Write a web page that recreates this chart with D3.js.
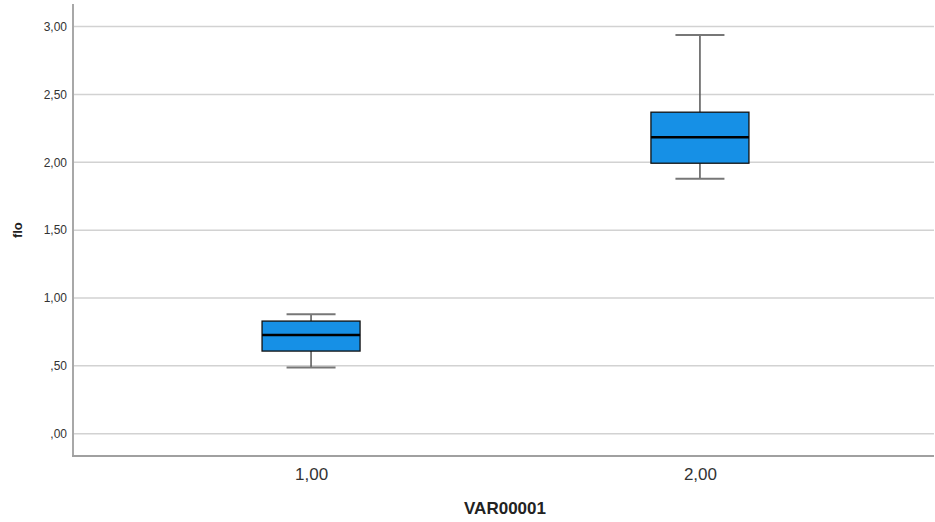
<!DOCTYPE html>
<html>
<head>
<meta charset="utf-8">
<script src="https://cdn.jsdelivr.net/npm/d3@7"></script>
<style>
  body { margin: 0; background: #fff; }
  text { font-family: Arial, "Liberation Sans", sans-serif; }
</style>
</head>
<body>
<script>
// box plot values
var categories = ["1,00", "2,00"];
var lowWhisker = [0.488, 1.878];
var q1 = [0.609, 1.993];
var median = [0.727, 2.185];
var q3 = [0.830, 2.369];
var highWhisker = [0.881, 2.938];
var yTicks = [0, 0.5, 1, 1.5, 2, 2.5, 3];
var yTickLabels = [",00", ",50", "1,00", "1,50", "2,00", "2,50", "3,00"];

var width = 935, height = 522;
var margin = {top: 4, right: 1, bottom: 66, left: 73};

var svg = d3.select("body").append("svg")
    .attr("width", width)
    .attr("height", height);

// plot band is shifted a hair right of the axis, like the original
var x = d3.scalePoint()
    .domain(categories)
    .range([margin.left + 2, width - margin.right + 2])
    .padding(0.607);

var y = d3.scaleLinear()
    .domain([-0.164, 3.166])
    .range([height - margin.bottom, margin.top]);

// gridlines
svg.append("g")
  .selectAll("line")
  .data(yTicks)
  .enter().append("line")
    .attr("x1", margin.left)
    .attr("x2", width - margin.right)
    .attr("y1", d => y(d))
    .attr("y2", d => y(d))
    .attr("stroke", "#d2d2d2")
    .attr("stroke-width", 1.5);

// y axis
var yAxis = d3.axisLeft(y)
    .tickValues(yTicks)
    .tickSize(0)
    .tickPadding(6)
    .tickFormat((d, i) => yTickLabels[i]);

var gy = svg.append("g")
    .attr("transform", "translate(" + margin.left + ",0)")
    .call(yAxis);
gy.select(".domain").remove();
gy.selectAll("text")
    .attr("font-size", 12)
    .attr("fill", "#333");

// x axis
var xAxis = d3.axisBottom(x).tickSize(0).tickPadding(12);
var gx = svg.append("g")
    .attr("transform", "translate(0," + (height - margin.bottom) + ")")
    .call(xAxis);
gx.select(".domain").remove();
gx.selectAll("text")
    .attr("font-size", 17)
    .attr("fill", "#333");

// axis lines
svg.append("line")
    .attr("x1", margin.left).attr("x2", margin.left)
    .attr("y1", margin.top).attr("y2", height - margin.bottom)
    .attr("stroke", "#a8a8a8").attr("stroke-width", 2);
svg.append("line")
    .attr("x1", margin.left - 1).attr("x2", width - margin.right)
    .attr("y1", height - margin.bottom).attr("y2", height - margin.bottom)
    .attr("stroke", "#a0a0a0").attr("stroke-width", 2);

// boxes
var boxW = 98, capW = 49;
var box = svg.append("g")
  .selectAll("g")
  .data(categories)
  .enter().append("g")
    .attr("transform", d => "translate(" + x(d) + ",0)");

// whiskers
box.append("line")
    .attr("y1", (d, i) => y(highWhisker[i]))
    .attr("y2", (d, i) => y(q3[i]))
    .attr("stroke", "#555").attr("stroke-width", 1.5);
box.append("line")
    .attr("y1", (d, i) => y(q1[i]))
    .attr("y2", (d, i) => y(lowWhisker[i]))
    .attr("stroke", "#555").attr("stroke-width", 1.5);
box.append("line")
    .attr("x1", -capW / 2).attr("x2", capW / 2)
    .attr("y1", (d, i) => y(highWhisker[i]))
    .attr("y2", (d, i) => y(highWhisker[i]))
    .attr("stroke", "#777").attr("stroke-width", 2);
box.append("line")
    .attr("x1", -capW / 2).attr("x2", capW / 2)
    .attr("y1", (d, i) => y(lowWhisker[i]))
    .attr("y2", (d, i) => y(lowWhisker[i]))
    .attr("stroke", "#777").attr("stroke-width", 2);

box.append("rect")
    .attr("x", -boxW / 2)
    .attr("width", boxW)
    .attr("y", (d, i) => y(q3[i]))
    .attr("height", (d, i) => y(q1[i]) - y(q3[i]))
    .attr("fill", "#1690e6")
    .attr("stroke", "#111")
    .attr("stroke-width", 1.3);

box.append("line")
    .attr("x1", -boxW / 2).attr("x2", boxW / 2)
    .attr("y1", (d, i) => y(median[i]))
    .attr("y2", (d, i) => y(median[i]))
    .attr("stroke", "#000").attr("stroke-width", 2.5);

// axis titles
svg.append("text")
    .attr("transform", "translate(22," + y(1.5) + ") rotate(-90)")
    .attr("text-anchor", "middle")
    .attr("font-size", 13)
    .attr("font-weight", "bold")
    .attr("fill", "#222")
    .text("flo");

svg.append("text")
    .attr("x", 505)
    .attr("y", 514)
    .attr("text-anchor", "middle")
    .attr("font-size", 17)
    .attr("font-weight", "bold")
    .attr("fill", "#222")
    .text("VAR00001");
</script>
</body>
</html>
